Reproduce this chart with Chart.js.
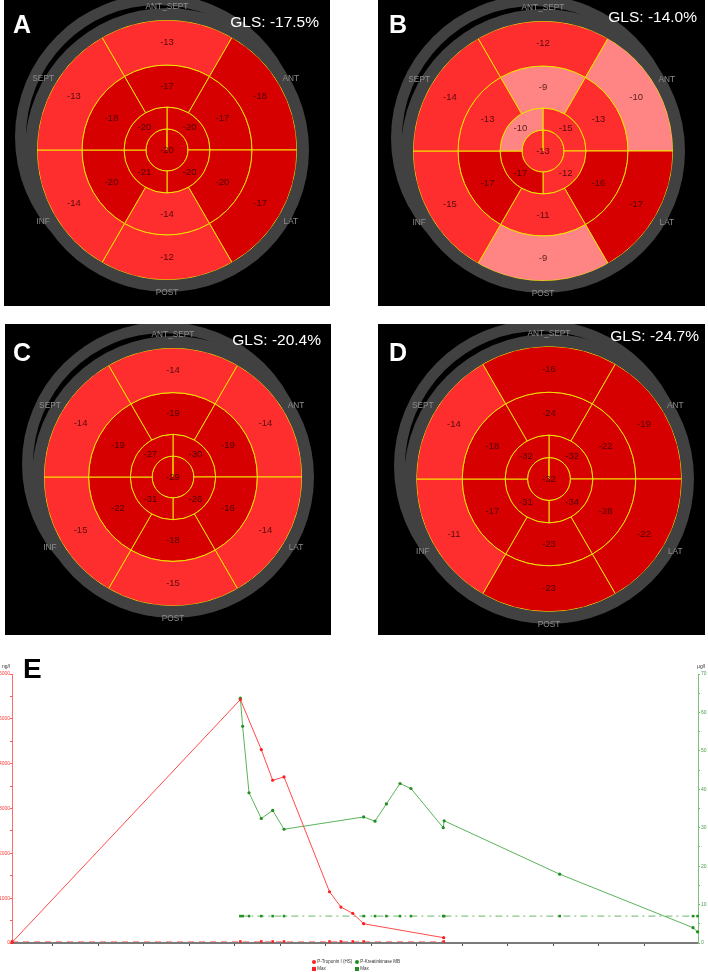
<!DOCTYPE html>
<html>
<head>
<meta charset="utf-8">
<script src="https://cdn.jsdelivr.net/npm/chart.js@4.4.1/dist/chart.umd.min.js"></script>
<style>
body { margin: 0; background: #fff; font-family: "Liberation Sans", Arial, sans-serif; }
#page { position: relative; width: 708px; height: 972px; overflow: hidden; background: #fff; }
.panel { position: absolute; background: #000; overflow: hidden; }
.panel canvas { position: absolute; left: 0; top: 0; }
.letter { position: absolute; color: #fff; font-weight: bold; font-size: 25px; line-height: 25px; }
.gls { position: absolute; color: #fff; font-size: 15.5px; line-height: 16px; white-space: nowrap; }
.unit { position: absolute; font-size: 5px; line-height: 5px; color: #333; }
#legend { position: absolute; left: 312px; top: 959px; display: grid; grid-template-columns: 43px 50px; row-gap: 2px; font-size: 4.5px; line-height: 5px; color: #333; white-space: nowrap; }
#legend span.m { display: inline-block; width: 4px; height: 4px; margin-right: 1.2px; vertical-align: -0.5px; }
</style>
</head>
<body>
<div id="page">
  <div class="panel" style="left:4px;top:0;width:326px;height:306px">
    <canvas id="bullA" width="326" height="306"></canvas>
    <div class="letter" style="left:9px;top:11.7px">A</div>
    <div class="gls" style="right:11px;top:14.4px" id="glsA"></div>
  </div>
  <div class="panel" style="left:378px;top:0;width:327px;height:306px">
    <canvas id="bullB" width="327" height="306"></canvas>
    <div class="letter" style="left:11px;top:11.7px">B</div>
    <div class="gls" style="right:8px;top:8.7px" id="glsB"></div>
  </div>
  <div class="panel" style="left:5px;top:324px;width:326px;height:311px">
    <canvas id="bullC" width="326" height="311"></canvas>
    <div class="letter" style="left:8px;top:15.7px">C</div>
    <div class="gls" style="right:10px;top:7.7px" id="glsC"></div>
  </div>
  <div class="panel" style="left:378px;top:324px;width:327px;height:311px">
    <canvas id="bullD" width="327" height="311"></canvas>
    <div class="letter" style="left:11px;top:15.7px">D</div>
    <div class="gls" style="right:6px;top:3.7px" id="glsD"></div>
  </div>

  <canvas id="labs" width="708" height="326" style="position:absolute;left:0;top:646px"></canvas>
  <div style="position:absolute;left:23px;top:655.4px;font-weight:bold;font-size:28px;line-height:28px;color:#000">E</div>
  <div class="unit" style="left:2px;top:664px">ng/l</div>
  <div class="unit" style="left:697px;top:664px">µg/l</div>
  <div id="legend"></div>
</div>

<script>
// segment order: basal and mid start at ANT_SEPT and go clockwise, apical starts at 12 o'clock
const walls = ['ANT_SEPT', 'ANT', 'LAT', 'POST', 'INF', 'SEPT'];

const basalA = [-13, -18, -17, -12, -14, -13];
const midA = [-17, -17, -20, -14, -20, -18];
const apicalA = [-20, -20, -21, -20];
const apexA = [-20];

const basalB = [-12, -10, -17, -9, -15, -14];
const midB = [-9, -13, -16, -11, -17, -13];
const apicalB = [-15, -12, -17, -10];
const apexB = [-13];

const basalC = [-14, -14, -14, -15, -15, -14];
const midC = [-19, -19, -16, -18, -22, -19];
const apicalC = [-30, -26, -31, -27];
const apexC = [-29];

const basalD = [-16, -19, -22, -23, -11, -14];
const midD = [-24, -22, -28, -23, -17, -18];
const apicalD = [-32, -34, -31, -32];
const apexD = [-32];

const glsValues = [-17.5, -14.0, -20.4, -24.7];

// biomarkers, x in days
const tropDays = [0.1, 5.12, 5.58, 5.83, 6.08, 7.08, 7.33, 7.59, 7.83, 9.59];
const tropVals = [12, 5430, 4314, 3630, 3704, 1143, 802, 661, 430, 118];
const tropMax = [34, 34, 34, 34, 34, 34, 34, 34, 34, 34];

const ckDays = [5.12, 5.17, 5.31, 5.58, 5.83, 6.08, 7.83, 8.08, 8.33, 8.63, 8.87, 9.58, 9.6, 12.14, 15.07, 15.17];
const ckVals = [63.7, 56.4, 39.1, 32.4, 34.5, 29.6, 32.8, 31.7, 36.2, 41.5, 40.2, 30.0, 31.8, 17.9, 4.0, 2.9];
const ckMax = [7, 7, 7, 7, 7, 7, 7, 7, 7, 7, 7, 7, 7, 7, 7, 7];

function strainColor(v) {
    if (v <= -16) return '#d60000';
    if (v >= -10) return '#ff8585';
    return '#ff2e2e';
}

// second grey ring, shifted up-left behind the map
const shadowRing = {
    id: 'shadowRing',
    beforeDatasetsDraw(chart, args, opts) {
        const arc = chart.getDatasetMeta(0).data[0];
        const ctx = chart.ctx;
        const cx = arc.x + opts.dx, cy = arc.y + opts.dy;
        ctx.save();
        ctx.fillStyle = '#414141';
        ctx.beginPath();
        ctx.arc(cx, cy, arc.outerRadius + 1, 0, Math.PI * 2);
        ctx.arc(cx, cy, arc.outerRadius - 10, 0, Math.PI * 2, true);
        ctx.fill();
        ctx.restore();
    }
};

// strain numbers in the segments + wall names
const segLabels = {
    id: 'segLabels',
    afterDatasetsDraw(chart) {
        const ctx = chart.ctx;
        ctx.save();
        ctx.textAlign = 'center';
        ctx.textBaseline = 'middle';
        ctx.font = '9.5px "Liberation Sans", Arial, sans-serif';
        ctx.fillStyle = 'rgba(45,0,0,0.8)';
        chart.data.datasets.forEach((ds, i) => {
            if (!ds.strain) return;
            chart.getDatasetMeta(i).data.forEach((arc, j) => {
                const p = ds.strain.length === 1 ? {x: arc.x, y: arc.y} : arc.tooltipPosition();
                ctx.fillText(String(ds.strain[j]), p.x, p.y);
            });
        });
        ctx.font = '8.3px "Liberation Sans", Arial, sans-serif';
        ctx.fillStyle = '#8e8e8e';
        chart.getDatasetMeta(1).data.forEach((arc, j) => {
            const a = (arc.startAngle + arc.endAngle) / 2;
            const r = arc.outerRadius + 13;
            ctx.fillText(walls[j], arc.x + Math.cos(a) * r, arc.y + Math.sin(a) * r);
        });
        ctx.restore();
    }
};

function ring(values, weight, rotation) {
    return {
        data: values.map(() => 1),
        strain: values,
        backgroundColor: values.map(strainColor),
        borderColor: '#f2e200',
        borderWidth: 1,
        weight: weight,
        rotation: rotation
    };
}

function bullseye(id, basal, mid, apical, apex, radius, pad) {
    const ctx = document.getElementById(id).getContext('2d');
    return new Chart(ctx, {
        type: 'doughnut',
        data: {
            datasets: [
                { data: [1], backgroundColor: '#414141', borderWidth: 0, weight: 12 },
                ring(basal, 45, -30),
                ring(mid, 42, -30),
                ring(apical, 22, 0),
                ring(apex, 21, 0)
            ]
        },
        options: {
            responsive: false,
            animation: false,
            events: [],
            radius: radius,
            cutout: 0,
            layout: { padding: pad },
            plugins: {
                legend: { display: false },
                tooltip: { enabled: false },
                shadowRing: { dx: -9, dy: -13 }
            }
        },
        plugins: [shadowRing, segLabels]
    });
}

bullseye('bullA', basalA, midA, apicalA, apexA, 142, {left: 0, right: 0, top: 0, bottom: 6});
bullseye('bullB', basalB, midB, apicalB, apexB, 142, {left: 3, right: 0, top: 0, bottom: 4});
bullseye('bullC', basalC, midC, apicalC, apexC, 141, {left: 10, right: 0, top: 0, bottom: 5});
bullseye('bullD', basalD, midD, apicalD, apexD, 145, {left: 15, right: 0, top: 0, bottom: 1});

['glsA', 'glsB', 'glsC', 'glsD'].forEach((id, i) => {
    document.getElementById(id).textContent = 'GLS: ' + glsValues[i].toFixed(1) + '%';
});

// panel E
const pts = (xs, ys) => xs.map((x, i) => ({x: x, y: ys[i]}));

const labChart = new Chart(document.getElementById('labs').getContext('2d'), {
    type: 'line',
    data: {
        datasets: [
            { label: 'P-Troponin I (HS)', data: pts(tropDays, tropVals), yAxisID: 'yL', borderColor: '#ff4a4a', backgroundColor: '#ff1e1e', borderWidth: 1, pointRadius: 1.6, pointStyle: 'circle', pointBorderWidth: 0, tension: 0, clip: 5 },
            { label: 'P-Kreatinkinase MB', data: pts(ckDays, ckVals), yAxisID: 'yR', borderColor: '#5cb25c', backgroundColor: '#1f8f1f', borderWidth: 1, pointRadius: 1.6, pointStyle: 'circle', pointBorderWidth: 0, tension: 0, clip: 5 },
            { label: 'Max', data: pts(tropDays, tropMax), yAxisID: 'yL', borderColor: '#ff9a9a', backgroundColor: '#ff1e1e', borderWidth: 1, borderDash: [6, 5], pointRadius: 1.8, pointStyle: 'rect', pointBorderWidth: 0, tension: 0, clip: 5 },
            { label: 'Max', data: pts(ckDays, ckMax), yAxisID: 'yR', borderColor: '#6cb86c', backgroundColor: '#1f8f1f', borderWidth: 1, borderDash: [7, 4, 2, 4], pointRadius: 1.8, pointStyle: 'rect', pointBorderWidth: 0, tension: 0, clip: 5 }
        ]
    },
    options: {
        responsive: false,
        animation: false,
        events: [],
        layout: { padding: { top: 28, bottom: 25, left: 0, right: 0 } },
        scales: {
            x: {
                type: 'linear', min: 0.1, max: 15.18,
                ticks: { display: false, stepSize: 1 },
                grid: { drawOnChartArea: false, tickLength: 3, color: '#555' },
                border: { color: '#7a7a7a', width: 2 },
                afterBuildTicks: s => { s.ticks = s.ticks.filter(t => Number.isInteger(t.value)); },
                afterFit: s => { s.height = 4; }
            },
            yL: {
                position: 'left', min: 0, max: 6000,
                ticks: { stepSize: 500, autoSkip: false, color: '#ff3c3c', padding: 0, font: { size: 5 },
                    callback: v => (v % 1000 === 0 ? v : '') },
                grid: { drawOnChartArea: false, tickLength: 2, color: '#ff5a5a' },
                border: { color: '#ff6a6a' },
                afterFit: s => { s.width = 12; }
            },
            yR: {
                position: 'right', min: 0, max: 70,
                ticks: { stepSize: 5, autoSkip: false, color: '#4aa04a', padding: 1, font: { size: 5 },
                    callback: v => (v % 10 === 0 ? v : '') },
                grid: { drawOnChartArea: false, tickLength: 2, color: '#6cb86c' },
                border: { color: '#7cc07c' },
                afterFit: s => { s.width = 10; }
            }
        },
        plugins: {
            legend: { display: false },
            tooltip: { enabled: false }
        }
    }
});

// html legend, 2 x 2 like the lab system print
const legendBox = document.getElementById('legend');
labChart.data.datasets.forEach(ds => {
    const item = document.createElement('div');
    const mark = document.createElement('span');
    mark.className = 'm';
    mark.style.background = ds.backgroundColor;
    if (ds.pointStyle === 'circle') mark.style.borderRadius = '50%';
    item.appendChild(mark);
    item.appendChild(document.createTextNode(ds.label));
    legendBox.appendChild(item);
});
</script>
</body>
</html>
